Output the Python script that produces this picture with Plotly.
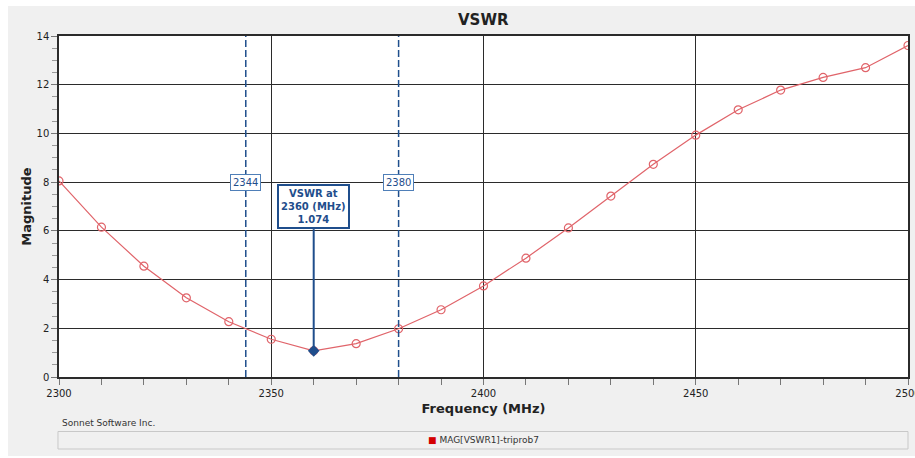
import plotly.graph_objects as go

# VSWR sweep of triprob7, port 1
freq_mhz = [2300, 2310, 2320, 2330, 2340, 2350, 2360, 2370, 2380, 2390, 2400,
            2410, 2420, 2430, 2440, 2450, 2460, 2470, 2480, 2490, 2500]
vswr = [8.05, 6.15, 4.55, 3.25, 2.27, 1.55, 1.074, 1.37, 1.98, 2.76, 3.74,
        4.88, 6.12, 7.43, 8.73, 9.93, 10.97, 11.78, 12.30, 12.70, 13.61]

# Band-edge cursors and the marker readout
band_edges = [2344, 2380]
marker_freq = 2360
marker_value = 1.074
series_name = "MAG[VSWR1]-triprob7"

BLUE = "#1f4e8c"
RED = "#e0646a"
GRID = "#2b2b2b"
PANEL = "#f0f0f0"
FONT = "DejaVu Sans"

fig = go.Figure()

fig.add_trace(go.Scatter(
    x=freq_mhz, y=vswr, mode="lines+markers", name=series_name,
    line=dict(color=RED, width=1.2),
    marker=dict(symbol="circle-open", size=8, color=RED, line=dict(width=1.2)),
    showlegend=False, hoverinfo="x+y",
))

# marker point
fig.add_trace(go.Scatter(
    x=[marker_freq], y=[marker_value], mode="markers",
    marker=dict(symbol="diamond", size=9, color=BLUE),
    showlegend=False, hoverinfo="x+y",
))

shapes = []
# thin white frame around the grey panel (outside the plot area)
for x0, x1, y0, y1 in [(-0.08, -0.0601, -0.3, 1.2),   # left strip
                       (-0.08, 1.02, 1.088, 1.2),      # top strip
                       (-0.08, 1.02, -0.3, -0.2317)]:  # bottom strip
    shapes.append(dict(type="rect", xref="paper", yref="paper",
                       x0=x0, x1=x1, y0=y0, y1=y1,
                       fillcolor="white", line=dict(width=0), layer="below"))
# legend frame
shapes.append(dict(type="rect", xref="paper", yref="paper",
                   x0=-0.0012, x1=1.0, y0=-0.2111, y1=-0.1598,
                   fillcolor=PANEL, line=dict(color="#c8c8c8", width=1),
                   layer="below"))
# band-edge dashed cursors
for f in band_edges:
    shapes.append(dict(type="line", xref="x", yref="paper", x0=f, x1=f,
                       y0=0, y1=1, line=dict(color=BLUE, width=1.5, dash="7px,3px")))
# marker leader line
label_bottom = 6.07
shapes.append(dict(type="line", xref="x", yref="y", x0=marker_freq, x1=marker_freq,
                   y0=marker_value, y1=label_bottom, line=dict(color=BLUE, width=2)))

annotations = []
annotations.append(dict(text="<b>VSWR</b>", xref="paper", yref="paper",
                        x=0.5, y=1.048, xanchor="center", yanchor="middle",
                        showarrow=False, font=dict(family=FONT, size=15, color="#222")))
for f in band_edges:
    annotations.append(dict(text=str(f), xref="x", yref="y", x=f, y=8.0,
                            showarrow=False, bgcolor="white",
                            bordercolor="#4f7fb8", borderwidth=1, borderpad=2,
                            font=dict(family=FONT, size=10, color=BLUE)))
annotations.append(dict(
    text=f"<b>VSWR at<br>{marker_freq} (MHz)<br>{marker_value:.3f}</b>",
    xref="x", yref="y", x=marker_freq, y=label_bottom,
    xanchor="center", yanchor="bottom", showarrow=False,
    bgcolor="white", bordercolor=BLUE, borderwidth=2, borderpad=2,
    font=dict(family=FONT, size=10, color=BLUE), align="center"))
annotations.append(dict(text="Sonnet Software Inc.", xref="paper", yref="paper",
                        x=0.001, y=-0.135, xanchor="left", yanchor="middle",
                        showarrow=False, font=dict(family=FONT, size=9, color="#333")))
annotations.append(dict(
    text=f"<span style='color:#d40000'>■</span> {series_name}",
    xref="paper", yref="paper", x=0.5, y=-0.1855,
    xanchor="center", yanchor="middle", showarrow=False,
    font=dict(family=FONT, size=9, color="#333")))

fig.update_layout(
    width=915, height=458,
    margin=dict(l=59, r=7, t=36, b=81),
    paper_bgcolor=PANEL, plot_bgcolor="white",
    font=dict(family=FONT, color="#333"),
    shapes=shapes, annotations=annotations,
    xaxis=dict(
        range=[2300, 2500], dtick=50, tick0=2300,
        showgrid=True, gridcolor=GRID, gridwidth=1,
        showline=True, linecolor=GRID, linewidth=1.5, mirror=True,
        ticks="outside", ticklen=6, tickcolor="#777",
        minor=dict(dtick=10, ticks="outside", ticklen=6, tickcolor="#777", showgrid=False),
        tickfont=dict(family=FONT, size=10, color="#222"),
        ticklabeloverflow="allow", automargin=False,
        title=dict(text="<b>Frequency (MHz)</b>", font=dict(family=FONT, size=13, color="#222"),
                   standoff=6),
        zeroline=False,
    ),
    yaxis=dict(
        range=[0, 14], dtick=2,
        showgrid=True, gridcolor=GRID, gridwidth=1,
        showline=True, linecolor=GRID, linewidth=1.5, mirror=True,
        ticks="outside", ticklen=6, tickcolor="#777",
        minor=dict(dtick=0.5, ticks="outside", ticklen=5, tickcolor="#999", showgrid=False),
        tickfont=dict(family=FONT, size=10, color="#222"),
        automargin=False,
        title=dict(text="<b>Magnitude</b>", font=dict(family=FONT, size=13, color="#222"),
                   standoff=2),
        zeroline=False,
    ),
)

fig.write_html("out.html")
